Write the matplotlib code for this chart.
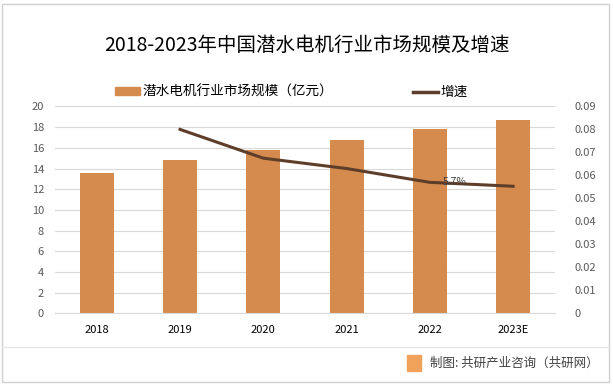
import matplotlib.pyplot as plt
from matplotlib.lines import Line2D
from matplotlib.patches import Patch, Rectangle

plt.rcParams['font.family'] = ['Noto Sans CJK SC', 'DejaVu Sans']

years = ['2018', '2019', '2020', '2021', '2022', '2023E']
scale = [13.6, 14.8, 15.8, 16.8, 17.8, 18.7]
growth_years = ['2019', '2020', '2021', '2022', '2023E']
growth = [0.080, 0.0675, 0.063, 0.057, 0.0553]

bar_color = '#D58B4E'
line_color = '#5E3E2A'

fig = plt.figure(figsize=(6.13, 3.87), dpi=100)
ax = fig.add_axes([0.09, 0.19, 0.815, 0.535])
ax2 = ax.twinx()

x = list(range(len(years)))
ax.bar(x, scale, width=0.41, color=bar_color, zorder=2)
gx = [years.index(y) for y in growth_years]
ax2.plot(gx, growth, color=line_color, lw=2.2, zorder=3)
ax2.annotate('5.7%', (gx[3], growth[3]), xytext=(18, 0), textcoords='offset points',
             fontsize=7.5, color='#404040', ha='center', va='center')

ax.set_xlim(-0.5, len(years) - 0.5)
ax.set_ylim(0, 20)
ax.set_yticks(range(0, 21, 2))
ax2.set_ylim(0, 0.09)
ax2.set_yticks([i / 100 for i in range(10)])
ax2.set_yticklabels(['0'] + ['%.2f' % (i / 100) for i in range(1, 10)])
ax.set_xticks(x)
ax.set_xticklabels(years)
ax.grid(axis='y', color='#D9D9D9', lw=0.8, zorder=0)
for a in (ax, ax2):
    for s in a.spines.values():
        s.set_visible(False)
    a.tick_params(length=0, labelsize=8, colors='#595959')
ax.tick_params(axis='x', colors='black', pad=8)
ax.spines['bottom'].set_visible(True)
ax.spines['bottom'].set_color('#D9D9D9')
ax2.tick_params(axis='y', pad=14)
ax.tick_params(axis='y', pad=8)

fig.text(0.5, 0.884, '2018-2023年中国潜水电机行业市场规模及增速', ha='center', va='center', fontsize=14, color='black')

handles = [Patch(color=bar_color), Line2D([0], [0], color=line_color, lw=2.5)]
fig.legend(handles, ['潜水电机行业市场规模（亿元）', '增速'], loc='center', bbox_to_anchor=(0.475, 0.762),
           ncol=2, frameon=False, fontsize=9.8, columnspacing=5.9, handlelength=1.85, handletextpad=0.15,
           handleheight=0.5)

# frame and footer
fig.add_artist(Rectangle((0.004, 0.012), 0.99, 0.978, transform=fig.transFigure, fill=False, ec='#D0D0D0', lw=1))
fig.add_artist(Line2D([0.004, 0.994], [0.103, 0.103], transform=fig.transFigure, color='#E6E6E6', lw=1))
fig.add_artist(Rectangle((0.664, 0.041), 0.023, 0.041, transform=fig.transFigure, color='#F0A25A'))
fig.text(0.701, 0.062, '制图: 共研产业咨询（共研网）', ha='left', va='center', fontsize=9, color='#404040')

fig.savefig('out.png', dpi=100)
